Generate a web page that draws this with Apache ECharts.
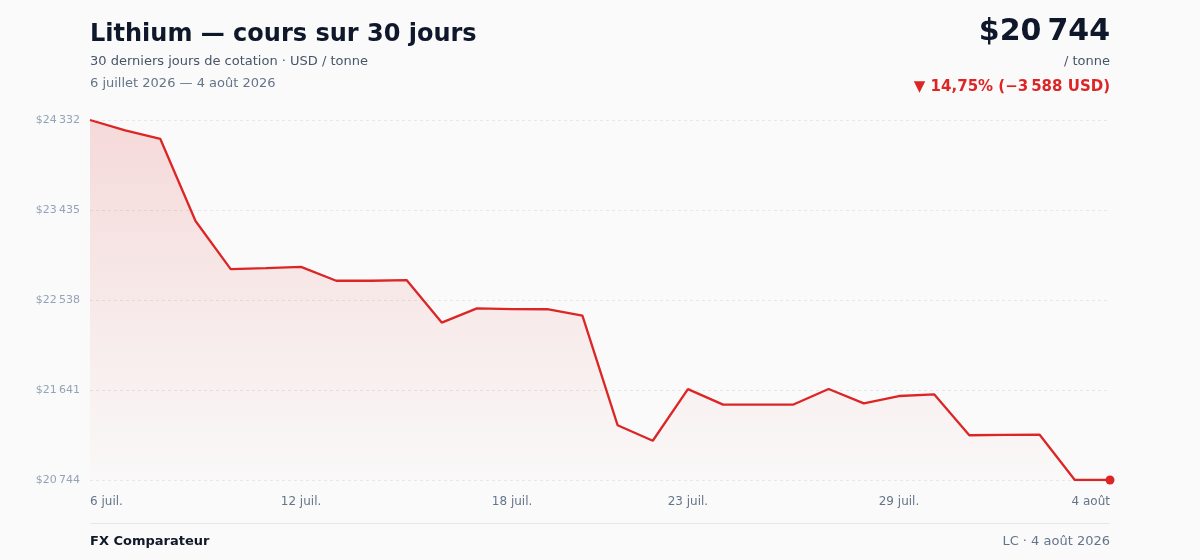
<!DOCTYPE html>
<html><head><meta charset="utf-8">
<script src="https://cdn.jsdelivr.net/npm/echarts@6/dist/echarts.min.js"></script>
<style>html,body{margin:0;padding:0;background:#fafafa}#c{width:1200px;height:560px}</style>
</head><body><div id="c"></div>
<script>
const categories = ['6 juil.','7 juil.','8 juil.','9 juil.','10 juil.','11 juil.','12 juil.','13 juil.','14 juil.','15 juil.','16 juil.','17 juil.','18 juil.','19 juil.','20 juil.','21 juil.','22 juil.','23 juil.','24 juil.','25 juil.','26 juil.','27 juil.','28 juil.','29 juil.','30 juil.','31 juil.','1 août','2 août','3 août','4 août'];
const prices = [24332,24228,24143,23325,22846,22856,22868,22730,22730,22737,22313,22455,22448,22446,22382,21290,21135,21650,21495,21495,21496,21651,21508,21581,21598,21190,21193,21195,20744,20744];
const xTickLabels = ['6 juil.','12 juil.','18 juil.','23 juil.','29 juil.','4 août'];
const yTicks = [20744,21641,22538,23435,24332];

const FONT = '"DejaVu Sans", sans-serif';
const fmt = v => '$' + String(v).replace(/\B(?=(\d{3})+(?!\d))/g, '\u202f');
const last = prices[prices.length - 1];
const first = prices[0];
const diff = last - first;
const pct = (Math.abs(diff) / first * 100).toFixed(2).replace('.', ',');
const diffTxt = '\u2212' + String(Math.abs(diff)).replace(/\B(?=(\d{3})+(?!\d))/g, '\u202f');

const chart = echarts.init(document.getElementById('c'), null, {renderer: 'canvas'});
chart.setOption({
  animation: false,
  backgroundColor: '#fafafa',
  textStyle: {fontFamily: FONT},
  grid: {left: 90, right: 90, top: 120, bottom: 80, containLabel: false},
  xAxis: {
    type: 'category', data: categories, boundaryGap: false,
    axisLine: {show: false}, axisTick: {show: false},
    axisLabel: {
      color: '#64748b', fontSize: 12, fontFamily: FONT, margin: 16,
      interval: (i, v) => xTickLabels.indexOf(v) >= 0,
      alignMinLabel: 'left', alignMaxLabel: 'right'
    },
    splitLine: {show: false}
  },
  yAxis: {
    type: 'value', min: yTicks[0], max: yTicks[yTicks.length - 1],
    axisLine: {show: false},
    axisTick: {show: false, customValues: yTicks},
    axisLabel: {color: '#94a3b8', fontSize: 11, fontFamily: FONT, margin: 10, customValues: yTicks, formatter: v => fmt(v)},
    splitLine: {show: true, lineStyle: {color: '#e5e7eb', type: [3, 3], width: 1}}
  },
  series: [{
    type: 'line', data: prices, showSymbol: false, symbol: 'none',
    lineStyle: {color: '#dc2626', width: 2.3},
    itemStyle: {color: '#dc2626'},
    areaStyle: {color: new echarts.graphic.LinearGradient(0, 0, 0, 1, [
      {offset: 0, color: 'rgba(220,38,38,0.22)'},
      {offset: 1, color: 'rgba(220,38,38,0.01)'}
    ])},
    z: 3
  }, {
    type: 'scatter', data: [[categories.length - 1, last]], symbol: 'circle', symbolSize: 9,
    itemStyle: {color: '#dc2626', opacity: 1}, z: 4
  }],
  graphic: [
    {type: 'text', left: 90, top: 23, style: {text: 'Lithium \u2014 cours sur 30 jours', font: 'bold 24px ' + FONT, fill: '#0f172a'}},
    {type: 'text', left: 90, top: 55, style: {text: '30 derniers jours de cotation \u00b7 USD / tonne', font: '13px ' + FONT, fill: '#475569'}},
    {type: 'text', left: 90, top: 77, style: {text: '6 juillet 2026 \u2014 4 ao\u00fbt 2026', font: '13px ' + FONT, fill: '#64748b'}},
    {type: 'text', right: 90, top: 17, style: {text: fmt(last), font: 'bold 30px ' + FONT, fill: '#0f172a'}},
    {type: 'text', right: 90, top: 55, style: {text: '/ tonne', font: '13px ' + FONT, fill: '#475569'}},
    {type: 'text', right: 90, top: 80, style: {text: '\u25bc ' + pct + '% (' + diffTxt + ' USD)', font: 'bold 15px ' + FONT, fill: '#dc2626'}},
    {type: 'rect', left: 90, top: 523, shape: {width: 1020, height: 1}, style: {fill: '#e5e7eb'}},
    {type: 'text', left: 90, top: 535, style: {text: 'FX Comparateur', font: 'bold 13px ' + FONT, fill: '#111827'}},
    {type: 'text', right: 90, top: 535, style: {text: 'LC \u00b7 4 ao\u00fbt 2026', font: '13px ' + FONT, fill: '#64748b'}}
  ]
});
</script></body></html>
